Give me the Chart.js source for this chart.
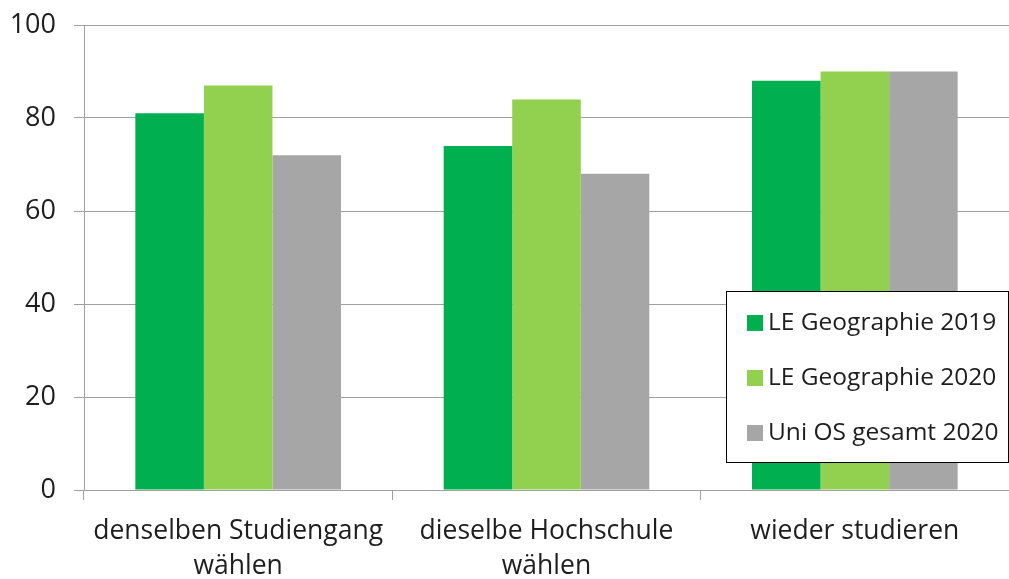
<!DOCTYPE html>
<html>
<head>
<meta charset="utf-8">
<script src="https://cdn.jsdelivr.net/npm/chart.js@4/dist/chart.umd.min.js"></script>
<style>
  html, body { margin: 0; padding: 0; background: #fff; }
  #wrap { width: 1009px; height: 579px; position: relative; }
</style>
</head>
<body>
<div id="wrap"><canvas id="c" width="1009" height="579"></canvas></div>
<script>
const categories = [["denselben Studiengang", "wählen"], ["dieselbe Hochschule", "wählen"], "wieder studieren"];
const seriesNames = ["LE Geographie 2019", "LE Geographie 2020", "Uni OS gesamt 2020"];
const geo2019 = [81, 74, 88];
const geo2020 = [87, 84, 90];
const uniOS2020 = [72, 68, 90];
const yTicks = [0, 20, 40, 60, 80, 100];
const colors = ["#00B050", "#92D050", "#A6A6A6"];

const FONT = "'Open Sans', sans-serif";
const TEXT = "#1e1e1e";

const boxLegend = {
  id: 'boxLegend',
  afterDraw(chart) {
    const ctx = chart.ctx;
    const x0 = 726, y0 = 291, w = 282, h = 171;
    ctx.save();
    ctx.fillStyle = '#fff';
    ctx.fillRect(x0, y0, w, h);
    ctx.strokeStyle = '#000';
    ctx.lineWidth = 1;
    ctx.strokeRect(x0 + 0.5, y0 + 0.5, w, h);
    ctx.font = "24.5px " + FONT;
    ctx.textBaseline = 'middle';
    ctx.textAlign = 'left';
    chart.data.datasets.forEach((ds, i) => {
      const cy = 323 + i * 55;
      ctx.fillStyle = ds.backgroundColor;
      ctx.fillRect(747, cy - 8, 16, 16);
      ctx.fillStyle = TEXT;
      ctx.fillText(ds.label, 768, cy);
    });
    ctx.restore();
  }
};

new Chart(document.getElementById('c'), {
  type: 'bar',
  data: {
    labels: categories,
    datasets: [
      { label: seriesNames[0], data: geo2019, backgroundColor: colors[0] },
      { label: seriesNames[1], data: geo2020, backgroundColor: colors[1] },
      { label: seriesNames[2], data: uniOS2020, backgroundColor: colors[2] }
    ]
  },
  options: {
    responsive: false,
    animation: false,
    layout: { padding: { top: 25, right: 0, left: 0, bottom: 0 } },
    plugins: { legend: { display: false }, tooltip: { enabled: false } },
    datasets: { bar: { barPercentage: 1, categoryPercentage: 0.667 } },
    scales: {
      x: {
        grid: { drawOnChartArea: false, drawTicks: true, tickLength: 10, color: '#A0A0A0', offset: true },
        border: { color: '#A0A0A0', width: 1 },
        ticks: { color: TEXT, font: { family: FONT, size: 26.5, lineHeight: 1.32 }, padding: 14, maxRotation: 0, autoSkip: false },
        afterFit(scale) { scale.height = 89; scale.paddingLeft = 0; scale.paddingRight = 0; }
      },
      y: {
        min: 0, max: 100,
        afterBuildTicks(scale) { scale.ticks = yTicks.map(v => ({ value: v })); },
        grid: { color: '#A0A0A0', tickLength: 10, drawTicks: true },
        border: { color: '#A0A0A0', width: 1 },
        ticks: { color: TEXT, font: { family: FONT, size: 27 }, padding: 18 },
        afterFit(scale) { scale.width = 84; scale.paddingTop = 0; scale.paddingBottom = 0; }
      }
    }
  },
  plugins: [boxLegend]
});
</script>
</body>
</html>
